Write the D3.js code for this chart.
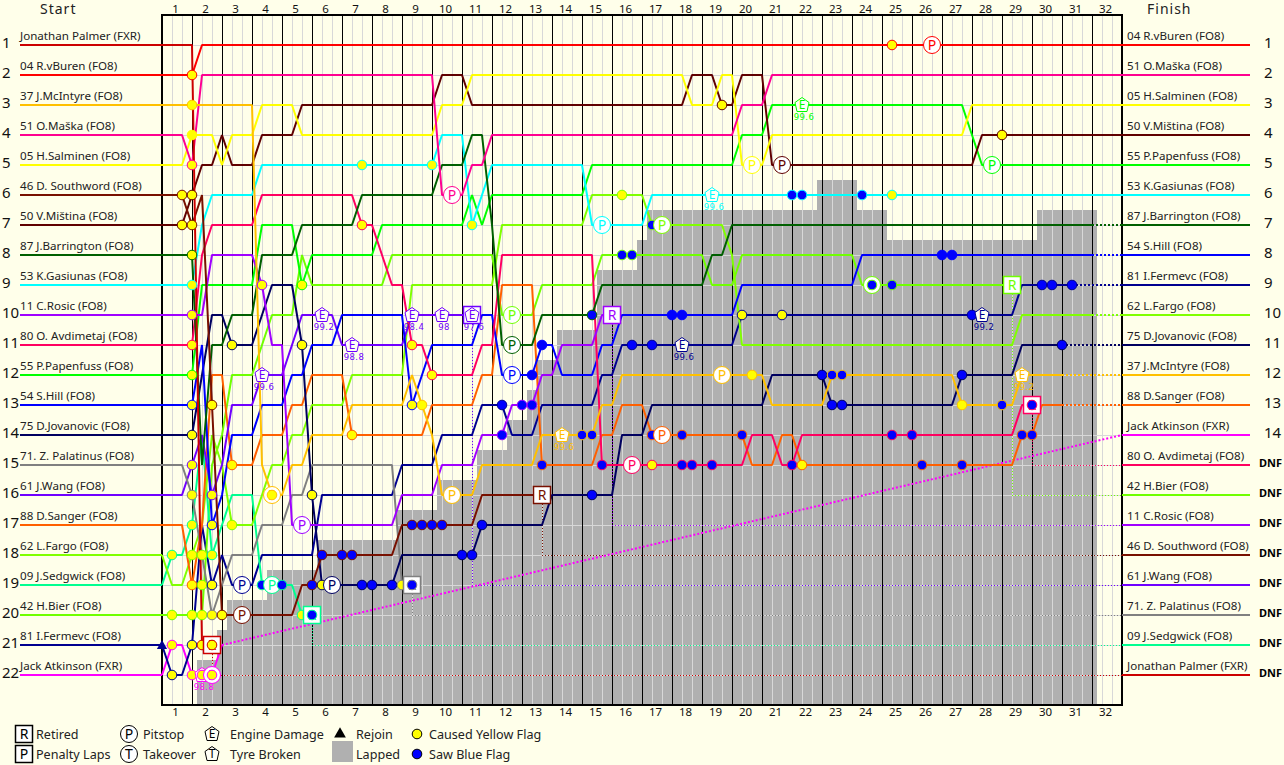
<!DOCTYPE html>
<html>
<head>
<meta charset="utf-8">
<script src="https://cdn.jsdelivr.net/npm/d3@7"></script>
<style>
    html, body { margin: 0; padding: 0; background: #ffffea; }
    svg { display: block; }
    text { font-family: "Noto Sans", sans-serif; fill: #222; }
    .name { font-size: 11.6px; }
    .axis text { font-size: 11.5px; fill: #111; }
    .axis path { display: none; }
    .rows text { font-size: 15px; }
    .head { font-size: 14px; letter-spacing: 1px; }
    .dnf { font-size: 11px; font-weight: bold; fill: #000; }
    .legend { font-size: 12.6px; }
    .val { font-family: "DejaVu Sans", sans-serif; font-size: 8.5px; letter-spacing: .4px; }
    .glyph { font-size: 14px; text-anchor: middle; }
</style>
</head>
<body>
<script>
"use strict"

// sector numbers: 3 sectors per lap, sector 0 is the start line
const lapCount = 32;
const sectorCount = 96;
const rowCount = 22;

const startLabels = ["Jonathan Palmer (FXR)", "04 R.vBuren (FO8)", "37 J.McIntyre (FO8)", "51 O.Maška (FO8)",
    "05 H.Salminen (FO8)", "46 D. Southword (FO8)", "50 V.Miština (FO8)", "87 J.Barrington (FO8)",
    "53 K.Gasiunas (FO8)", "11 C.Rosic (FO8)", "80 O. Avdimetaj (FO8)", "55 P.Papenfuss (FO8)",
    "54 S.Hill (FO8)", "75 D.Jovanovic (FO8)", "71. Z. Palatinus (FO8)", "61 J.Wang (FO8)",
    "88 D.Sanger (FO8)", "62 L.Fargo (FO8)", "09 J.Sedgwick (FO8)", "42 H.Bier (FO8)",
    "81 I.Fermevc (FO8)", "Jack Atkinson (FXR)"];

const driverColors = ["#cc0000", "#ff0000", "#ffc000", "#ff0090", "#ffff00", "#781000", "#600000", "#006000",
    "#00ffff", "#a000ff", "#ff0060", "#00ff00", "#0000ff", "#000060", "#808080", "#7000ff",
    "#ff6000", "#80ff00", "#00ff90", "#70ff00", "#000090", "#ff00ff"];

// driver indexes
const PAL = 0, BUR = 1, MCI = 2, MAS = 3, SAL = 4, SOU = 5, MIS = 6, BAR = 7, GAS = 8, ROS = 9, AVD = 10,
    PAP = 11, HIL = 12, JOV = 13, ZPA = 14, WAN = 15, SAN = 16, FAR = 17, SED = 18, BIE = 19, FER = 20, ATK = 21;

// [sector, position] at each change of place
const traces = [
    [[0, 1], [4, 21]],
    [[0, 2], [4, 1]],
    [[0, 3], [10, 15], [11, 16], [13, 15], [15, 14], [19, 13], [25, 12], [26, 13], [27, 14], [28, 16], [32, 15], [38, 14], [44, 13], [46, 12], [61, 13], [67, 12], [80, 13], [86, 12]],
    [[0, 4], [3, 5], [4, 2], [28, 6], [31, 5], [33, 4], [58, 3], [61, 2]],
    [[0, 5], [3, 4], [6, 5], [7, 4], [10, 3], [14, 4], [28, 3], [31, 2], [53, 3], [56, 2], [58, 5], [61, 4], [81, 3]],
    [[0, 6], [3, 7], [4, 6], [5, 13], [6, 20], [14, 19], [16, 18], [24, 17], [32, 16]],
    [[0, 7], [3, 6], [4, 5], [6, 4], [7, 5], [10, 4], [14, 3], [28, 2], [31, 3], [53, 2], [56, 3], [58, 2], [61, 5], [82, 4]],
    [[0, 8], [4, 15], [5, 11], [7, 10], [10, 8], [14, 7], [20, 6], [28, 5], [31, 4], [33, 7], [34, 11], [38, 10], [44, 9], [55, 8], [57, 7]],
    [[0, 9], [4, 7], [5, 6], [10, 5], [28, 4], [31, 7], [32, 6], [33, 5], [43, 7], [49, 6]],
    [[0, 10], [5, 8], [10, 9], [11, 11], [13, 17], [24, 16], [28, 15], [32, 14], [35, 13], [38, 12], [40, 11], [44, 10]],
    [[0, 11], [4, 8], [5, 7], [10, 6], [20, 7], [22, 8], [23, 9], [25, 11], [27, 12], [32, 11], [34, 8], [44, 15], [59, 14], [62, 15], [64, 14], [86, 13]],
    [[0, 12], [4, 9], [10, 7], [14, 9], [15, 8], [22, 7], [31, 6], [32, 7], [33, 6], [43, 5], [58, 4], [61, 3], [81, 4], [82, 5]],
    [[0, 13], [4, 11], [5, 17], [6, 16], [7, 14], [10, 13], [13, 12], [15, 11], [18, 10], [25, 13], [26, 12], [27, 11], [32, 10], [34, 12], [38, 11], [40, 12], [44, 11], [46, 10], [58, 9], [70, 8]],
    [[0, 14], [4, 12], [5, 10], [7, 11], [10, 10], [11, 9], [14, 11], [15, 16], [16, 19], [24, 18], [32, 17], [39, 16], [46, 14], [49, 13], [61, 12], [67, 13], [80, 12], [86, 11]],
    [[0, 15], [3, 16], [4, 18], [5, 20], [6, 19], [7, 18], [10, 17], [13, 16], [15, 15], [24, 19]],
    [[0, 16], [3, 15], [4, 14], [5, 16], [6, 15], [7, 13], [10, 12], [13, 11], [14, 10], [18, 11], [25, 10]],
    [[0, 17], [3, 19], [4, 17], [5, 12], [7, 15], [10, 14], [13, 13], [15, 12], [19, 14], [27, 13], [32, 12], [34, 9], [38, 15], [44, 14], [46, 13], [49, 14], [59, 15], [62, 14], [64, 15], [86, 14], [88, 13]],
    [[0, 18], [1, 19], [3, 18], [4, 17], [5, 14], [6, 15], [7, 17], [10, 16], [11, 15], [13, 14], [15, 13], [19, 12], [25, 9], [34, 7], [43, 6], [49, 7], [57, 8], [58, 11], [86, 10]],
    [[0, 19], [1, 18], [3, 17], [4, 14], [5, 18], [6, 17], [7, 16], [10, 19], [14, 20]],
    [[0, 20], [5, 15], [6, 14], [7, 12], [10, 11], [11, 10], [14, 8], [15, 9], [23, 8], [34, 10], [38, 9], [44, 8], [55, 9], [58, 8], [70, 9]],
    [[0, 21], [1, 22], [3, 21], [4, 17], [5, 19], [6, 18], [7, 19], [10, 18], [16, 16], [24, 15], [28, 14], [32, 13], [35, 14], [38, 13], [44, 12], [46, 11], [58, 10], [86, 9]],
    [[0, 22], [1, 21], [3, 22], [6, 21]]
];

// last sector of the solid line
const solidEnds = [5, 96, 90, 96, 96, 38, 96, 93, 96, 45, 87, 96, 93, 90, 25, 31, 90, 93, 15, 85, 91, 6];

const finishLabels = ["04 R.vBuren (FO8)", "51 O.Maška (FO8)", "05 H.Salminen (FO8)", "50 V.Miština (FO8)",
    "55 P.Papenfuss (FO8)", "53 K.Gasiunas (FO8)", "87 J.Barrington (FO8)", "54 S.Hill (FO8)",
    "81 I.Fermevc (FO8)", "62 L.Fargo (FO8)", "75 D.Jovanovic (FO8)", "37 J.McIntyre (FO8)",
    "88 D.Sanger (FO8)", "Jack Atkinson (FXR)", "80 O. Avdimetaj (FO8)", "42 H.Bier (FO8)",
    "11 C.Rosic (FO8)", "46 D. Southword (FO8)", "61 J.Wang (FO8)", "71. Z. Palatinus (FO8)",
    "09 J.Sedgwick (FO8)", "Jonathan Palmer (FXR)"];
const finishDrivers = [BUR, MAS, SAL, MIS, PAP, GAS, BAR, HIL, FER, FAR, JOV, MCI, SAN, ATK, AVD, BIE, ROS, SOU, WAN, ZPA, SED, PAL];
const firstDnfRow = 15;

// [driver, sector, position]
const yellowFlags = [
    [BUR, 3, 2], [MCI, 3, 3], [SAL, 3, 4], [MAS, 3, 5], [SOU, 2, 6], [MIS, 3, 6], [MIS, 2, 7], [SOU, 3, 7],
    [BAR, 3, 8], [GAS, 3, 9], [ROS, 3, 10], [AVD, 3, 11], [PAP, 3, 12], [HIL, 3, 13], [JOV, 3, 14], [WAN, 3, 15],
    [ZPA, 3, 16], [SED, 3, 17], [FAR, 3, 18], [SAN, 3, 19], [BIE, 1, 20], [BIE, 3, 20], [BIE, 4, 20], [ZPA, 5, 20],
    [SOU, 6, 20], [SED, 1, 18], [FAR, 4, 18], [SED, 5, 18], [BIE, 4, 19], [FER, 5, 19], [ATK, 1, 21], [FER, 1, 22],
    [FER, 3, 21], [PAL, 4, 21], [PAL, 5, 21], [ATK, 3, 22], [ATK, 4, 22], [ATK, 5, 22], [SOU, 5, 13], [WAN, 5, 16],
    [HIL, 5, 17], [SAN, 7, 15], [JOV, 7, 11], [FAR, 7, 17], [ROS, 10, 9], [MCI, 11, 16], [PAP, 14, 9], [JOV, 14, 11],
    [JOV, 15, 16], [JOV, 16, 19], [SAN, 19, 14], [GAS, 20, 5], [AVD, 20, 7], [ZPA, 24, 19], [AVD, 25, 11], [HIL, 25, 13],
    [MCI, 26, 13], [GAS, 27, 5], [AVD, 27, 12], [GAS, 31, 7], [SED, 14, 20], [FAR, 46, 6], [AVD, 49, 15], [MIS, 56, 3],
    [MCI, 59, 12], [FER, 58, 10], [FER, 62, 10], [SAN, 64, 15], [MCI, 80, 13], [MIS, 84, 4], [BUR, 73, 1], [GAS, 73, 6]
];

const blueFlags = [
    [SOU, 15, 19], [SOU, 16, 18], [SOU, 18, 18], [SOU, 19, 18], [SOU, 25, 17], [SOU, 26, 17], [SOU, 27, 17], [SOU, 28, 17],
    [SED, 10, 19], [SED, 12, 19], [SED, 15, 20], [JOV, 20, 19], [JOV, 21, 19], [JOV, 23, 19], [ZPA, 25, 19], [JOV, 30, 18],
    [JOV, 31, 18], [JOV, 32, 17], [FER, 34, 13], [ROS, 34, 14], [ROS, 36, 13], [ROS, 37, 13], [HIL, 37, 12], [HIL, 38, 11],
    [SAN, 38, 15], [MCI, 42, 14], [MCI, 43, 14], [JOV, 43, 16], [BAR, 43, 10], [AVD, 44, 15], [BIE, 46, 8], [BIE, 47, 8],
    [FAR, 49, 7], [SAN, 49, 14], [FER, 47, 11], [FER, 49, 11], [HIL, 51, 10], [HIL, 52, 10], [SAN, 52, 14], [AVD, 52, 15],
    [AVD, 53, 15], [AVD, 55, 15], [SAN, 58, 14], [AVD, 63, 15], [GAS, 63, 6], [GAS, 64, 6], [JOV, 66, 12], [JOV, 67, 13],
    [JOV, 68, 13], [MCI, 67, 12], [MCI, 68, 12], [GAS, 70, 6], [BIE, 71, 9], [BIE, 73, 9], [AVD, 73, 14], [AVD, 75, 14],
    [SAN, 76, 15], [HIL, 78, 8], [HIL, 79, 8], [JOV, 80, 12], [SAN, 80, 15], [FER, 81, 10], [MCI, 84, 13], [SAN, 86, 14],
    [SAN, 87, 14], [AVD, 87, 13], [FER, 88, 9], [FER, 89, 9], [JOV, 90, 11], [FER, 91, 9]
];

const pitstops = [
    [ATK, 5, 22], [MCI, 11, 16], [FER, 8, 19], [SOU, 8, 20], [SED, 11, 19], [ROS, 14, 17], [JOV, 17, 19], [MAS, 29, 6],
    [MCI, 29, 16], [BIE, 35, 10], [BAR, 35, 11], [HIL, 35, 12], [GAS, 44, 7], [AVD, 47, 15], [FAR, 50, 7], [SAN, 50, 14],
    [MCI, 56, 12], [SAL, 59, 5], [MIS, 62, 5], [BIE, 71, 9], [BUR, 77, 1], [PAP, 83, 5]
];

// [driver, sector, position, label]
const engineDamage = [
    [ATK, 4, 22, "98.8"], [WAN, 10, 12, "99.6"], [WAN, 16, 10, "99.2"], [WAN, 19, 11, "98.8"], [WAN, 25, 10, "98.4"],
    [WAN, 28, 10, "98"], [WAN, 31, 10, "97.6"], [MCI, 40, 14, "99.6"], [GAS, 55, 6, "99.6"], [FER, 52, 11, "99.6"],
    [PAP, 64, 3, "99.6"], [FER, 82, 10, "99.2"], [MCI, 86, 12, "99.2"]
];

// [driver, sector, position, position it ends up classified in]
const retirements = [
    [PAL, 5, 21, 22], [SED, 15, 20, 21], [ZPA, 25, 19, 20], [WAN, 31, 10, 19], [SOU, 38, 16, 18],
    [ROS, 45, 10, 17], [BIE, 85, 9, 16], [AVD, 87, 13, 15]
];

// [first sector, last sector, top position] of the grey lapped area
const lappedBands = [
    [3.5, 5.5, 21.5], [5.5, 6.5, 20.5], [6.5, 10.5, 19.5], [10.5, 15.5, 18.5], [15.5, 23.5, 17.5], [23.5, 27.5, 16.5],
    [27.5, 31.5, 15.5], [31.5, 34.5, 14.5], [34.5, 36.5, 13.5], [36.5, 37.5, 12.5], [37.5, 39.5, 11.5], [39.5, 43.5, 10.5],
    [43.5, 47.5, 8.5], [47.5, 48.5, 7.5], [48.5, 65.5, 6.5], [65.5, 69.5, 5.5], [69.5, 72.5, 6.5], [72.5, 87.5, 7.5],
    [87.5, 93.5, 6.5]
];

const width = 1284, height = 765;
const plotLeft = 162, plotRight = 1122, plotTop = 15, plotBottom = 705;

const x = d3.scaleLinear().domain([0, sectorCount]).range([plotLeft, plotRight]);
const y = d3.scaleLinear().domain([1, rowCount]).range([45, 675]);

const svg = d3.select("body").append("svg")
    .attr("width", width)
    .attr("height", height);

// lapped area
svg.append("g").selectAll("rect")
    .data(lappedBands)
    .join("rect")
    .attr("x", d => x(d[0]))
    .attr("y", d => y(d[2]))
    .attr("width", d => x(d[1]) - x(d[0]))
    .attr("height", d => plotBottom - y(d[2]))
    .attr("fill", "#b0b0b0")
    .attr("shape-rendering", "crispEdges");

// grid
const grid = svg.append("g").attr("shape-rendering", "crispEdges");
grid.selectAll("line.row")
    .data(d3.range(1, rowCount + 1))
    .join("line")
    .attr("class", "row")
    .attr("x1", plotLeft).attr("x2", plotRight)
    .attr("y1", d => y(d)).attr("y2", d => y(d))
    .attr("stroke", "#d8d8d8");
grid.selectAll("line.sector")
    .data(d3.range(1, sectorCount).filter(s => s % 3 != 0))
    .join("line")
    .attr("class", "sector")
    .attr("x1", d => x(d)).attr("x2", d => x(d))
    .attr("y1", plotTop).attr("y2", plotBottom)
    .attr("stroke", "#d8d8d8");
grid.selectAll("line.lap")
    .data(d3.range(3, sectorCount, 3))
    .join("line")
    .attr("class", "lap")
    .attr("x1", d => x(d)).attr("x2", d => x(d))
    .attr("y1", plotTop).attr("y2", plotBottom)
    .attr("stroke", "#000");
svg.append("rect")
    .attr("x", plotLeft).attr("y", plotTop)
    .attr("width", plotRight - plotLeft).attr("height", plotBottom - plotTop)
    .attr("fill", "none")
    .attr("stroke", "#000")
    .attr("stroke-width", 2)
    .attr("shape-rendering", "crispEdges");

// lap numbers
const lapScale = k => x(3 * k - 1.7);
const laps = d3.range(1, lapCount + 1);
const lapAxisScale = d3.scaleLinear().domain([1, lapCount]).range([lapScale(1), lapScale(lapCount)]);
svg.append("g").attr("class", "axis")
    .attr("transform", "translate(0," + plotTop + ")")
    .call(d3.axisTop(lapAxisScale).tickValues(laps).tickFormat(d3.format("d")).tickSize(0).tickPadding(2));
svg.append("g").attr("class", "axis")
    .attr("transform", "translate(0," + plotBottom + ")")
    .call(d3.axisBottom(lapAxisScale).tickValues(laps).tickFormat(d3.format("d")).tickSize(0).tickPadding(3));

// row numbers, the right side stops where the DNF marks start
const rowAxis = d3.axisRight(y).tickFormat(d3.format("d")).tickSize(0).tickPadding(0);
svg.append("g").attr("class", "axis rows").attr("transform", "translate(2,-2)")
    .call(rowAxis.tickValues(d3.range(1, rowCount + 1)));
svg.append("g").attr("class", "axis rows").attr("transform", "translate(1264,-2)")
    .call(rowAxis.tickValues(d3.range(1, firstDnfRow)));

svg.append("text").attr("class", "head").attr("x", 40).attr("y", 14).text("Start");
svg.append("text").attr("class", "head").attr("x", 1147).attr("y", 14).text("Finish");

// start and finish stubs
startLabels.forEach((label, i) => {
    svg.append("line")
        .attr("x1", 20).attr("x2", plotLeft)
        .attr("y1", y(i + 1)).attr("y2", y(i + 1))
        .attr("stroke", driverColors[i])
        .attr("stroke-width", 2)
        .attr("shape-rendering", "crispEdges");
    svg.append("text").attr("class", "name").attr("x", 20).attr("y", y(i + 1) - 5).text(label);
});
finishLabels.forEach((label, i) => {
    svg.append("line")
        .attr("x1", plotRight).attr("x2", 1250)
        .attr("y1", y(i + 1)).attr("y2", y(i + 1))
        .attr("stroke", driverColors[finishDrivers[i]])
        .attr("stroke-width", 2)
        .attr("shape-rendering", "crispEdges");
    svg.append("text").attr("class", "name").attr("x", 1127).attr("y", y(i + 1) - 5).text(label);
    if (i + 1 >= firstDnfRow) {
        svg.append("text").attr("class", "dnf").attr("x", 1259).attr("y", y(i + 1) + 2).text("DNF");
    }
});

const line = d3.line().x(d => x(d[0])).y(d => y(d[1]));

// a place is held until the sector before the next change
function tracePoints(keys, end) {
    const points = [];
    keys.forEach((k, i) => {
        if (i > 0 && k[0] - 1 > keys[i - 1][0]) {
            points.push([k[0] - 1, keys[i - 1][1]]);
        }
        points.push(k);
    });
    const last = keys[keys.length - 1];
    if (end > last[0]) {
        points.push([end, last[1]]);
    }
    return points;
}

// dotted tails of retired cars and of cars that stopped early
retirements.forEach(r => {
    svg.append("path")
        .attr("d", line([[r[1], r[2]], [r[1], r[3]], [sectorCount, r[3]]]))
        .attr("fill", "none")
        .attr("stroke", driverColors[r[0]])
        .attr("stroke-width", 1)
        .attr("stroke-dasharray", "1,2")
        .attr("shape-rendering", "crispEdges");
});
[BAR, HIL, FER, FAR, JOV, MCI, SAN].forEach(d => {
    const end = traces[d][traces[d].length - 1][1];
    svg.append("path")
        .attr("d", line([[solidEnds[d], end], [sectorCount, end]]))
        .attr("fill", "none")
        .attr("stroke", driverColors[d])
        .attr("stroke-width", 2)
        .attr("stroke-dasharray", "2,2")
        .attr("shape-rendering", "crispEdges");
});
svg.append("path")
    .attr("d", line([[solidEnds[ATK], 21], [sectorCount, 14]]))
    .attr("fill", "none")
    .attr("stroke", driverColors[ATK])
    .attr("stroke-width", 2)
    .attr("stroke-dasharray", "2,2");

// race traces, leader of the grid on top
svg.append("g").selectAll("path")
    .data(d3.range(rowCount).reverse())
    .join("path")
    .attr("d", d => line(tracePoints(traces[d], solidEnds[d])))
    .attr("fill", "none")
    .attr("stroke", d => driverColors[d])
    .attr("stroke-width", 2)
    .attr("stroke-linejoin", "bevel");

function drawDot(g, cx, cy, fill, color) {
    g.append("circle")
        .attr("cx", cx).attr("cy", cy).attr("r", 4.8)
        .attr("fill", fill)
        .attr("stroke", color);
}

function drawLetter(g, cx, cy, letter, color) {
    g.append("text")
        .attr("class", "glyph")
        .attr("x", cx).attr("y", cy + 5)
        .style("fill", color)
        .text(letter);
}

function drawCircle(g, cx, cy, color, letter) {
    g.append("circle")
        .attr("cx", cx).attr("cy", cy).attr("r", 8.5)
        .attr("fill", "#fff")
        .attr("stroke", color);
    drawLetter(g, cx, cy, letter, color);
}

function drawBox(g, cx, cy, color, letter) {
    g.append("rect")
        .attr("x", cx - 8.5).attr("y", cy - 8.5)
        .attr("width", 17).attr("height", 17)
        .attr("fill", "#fff")
        .attr("stroke", color)
        .attr("stroke-width", 1.5);
    drawLetter(g, cx, cy, letter, color);
}

function drawPentagon(g, cx, cy, color, letter) {
    const shape = [[0, -7.5], [7, -2.5], [5, 6.5], [-5, 6.5], [-7, -2.5]];
    g.append("polygon")
        .attr("points", shape.map(p => (cx + p[0]) + "," + (cy + p[1])).join(" "))
        .attr("fill", "#fffff6")
        .attr("stroke", color);
    g.append("text")
        .attr("class", "glyph")
        .attr("x", cx).attr("y", cy + 4)
        .style("font-size", "12px")
        .style("fill", color)
        .text(letter);
}

// everything that happened, in race order
const events = [
    ...retirements.map(r => ({ kind: 0, driver: r[0], sector: r[1], pos: r[2] })),
    ...pitstops.map(r => ({ kind: 1, driver: r[0], sector: r[1], pos: r[2] })),
    ...engineDamage.map(r => ({ kind: 2, driver: r[0], sector: r[1], pos: r[2], label: r[3] })),
    ...yellowFlags.map(r => ({ kind: 3, driver: r[0], sector: r[1], pos: r[2] })),
    ...blueFlags.map(r => ({ kind: 4, driver: r[0], sector: r[1], pos: r[2] }))
].sort((a, b) => a.sector - b.sector || a.kind - b.kind);

const marks = svg.append("g");
events.forEach(e => {
    const cx = x(e.sector), cy = y(e.pos), color = driverColors[e.driver];
    if (e.kind == 0) drawBox(marks, cx, cy, color, "R");
    if (e.kind == 1) drawCircle(marks, cx, cy, color, "P");
    if (e.kind == 2) {
        drawPentagon(marks, cx, cy, color, "E");
        marks.append("text")
            .attr("class", "val")
            .attr("x", cx + 2).attr("y", cy + 15)
            .attr("text-anchor", "middle")
            .style("fill", color)
            .text(e.label);
    }
    if (e.kind == 3) drawDot(marks, cx, cy, "#ffff00", color);
    if (e.kind == 4) drawDot(marks, cx, cy, "#0000ff", color);
});

// rejoin marker of the car on row 21
svg.append("path")
    .attr("d", d3.symbol(d3.symbolTriangle, 45)())
    .attr("transform", "translate(" + x(0) + "," + (y(21) + 1) + ")")
    .attr("fill", driverColors[FER]);

// legend
const legend = svg.append("g");
const legendRow1 = 734, legendRow2 = 754;
const legendText = [["Retired", 36, legendRow1], ["Penalty Laps", 36, legendRow2], ["Pitstop", 143, legendRow1],
    ["Takeover", 143, legendRow2], ["Engine Damage", 230, legendRow1], ["Tyre Broken", 230, legendRow2],
    ["Rejoin", 356, legendRow1], ["Lapped", 356, legendRow2], ["Caused Yellow Flag", 429, legendRow1],
    ["Saw Blue Flag", 429, legendRow2]];
drawBox(legend, 24, legendRow1, "#000", "R");
drawBox(legend, 24, legendRow2, "#000", "P");
drawCircle(legend, 129, legendRow1, "#000", "P");
drawCircle(legend, 129, legendRow2, "#000", "T");
drawPentagon(legend, 212, legendRow1, "#000", "E");
drawPentagon(legend, 212, legendRow2, "#000", "T");
legend.append("path")
    .attr("d", d3.symbol(d3.symbolTriangle, 60)())
    .attr("transform", "translate(340," + legendRow1 + ")")
    .attr("fill", "#000");
legend.append("rect")
    .attr("x", 332).attr("y", 741)
    .attr("width", 21).attr("height", 21)
    .attr("fill", "#b0b0b0");
drawDot(legend, 417, legendRow1, "#ffff00", "#000");
drawDot(legend, 417, legendRow2, "#0000ff", "#000");
legend.selectAll("text.legend")
    .data(legendText)
    .join("text")
    .attr("class", "legend")
    .attr("x", d => d[1])
    .attr("y", d => d[2] + 5)
    .text(d => d[0]);
</script>
</body>
</html>
